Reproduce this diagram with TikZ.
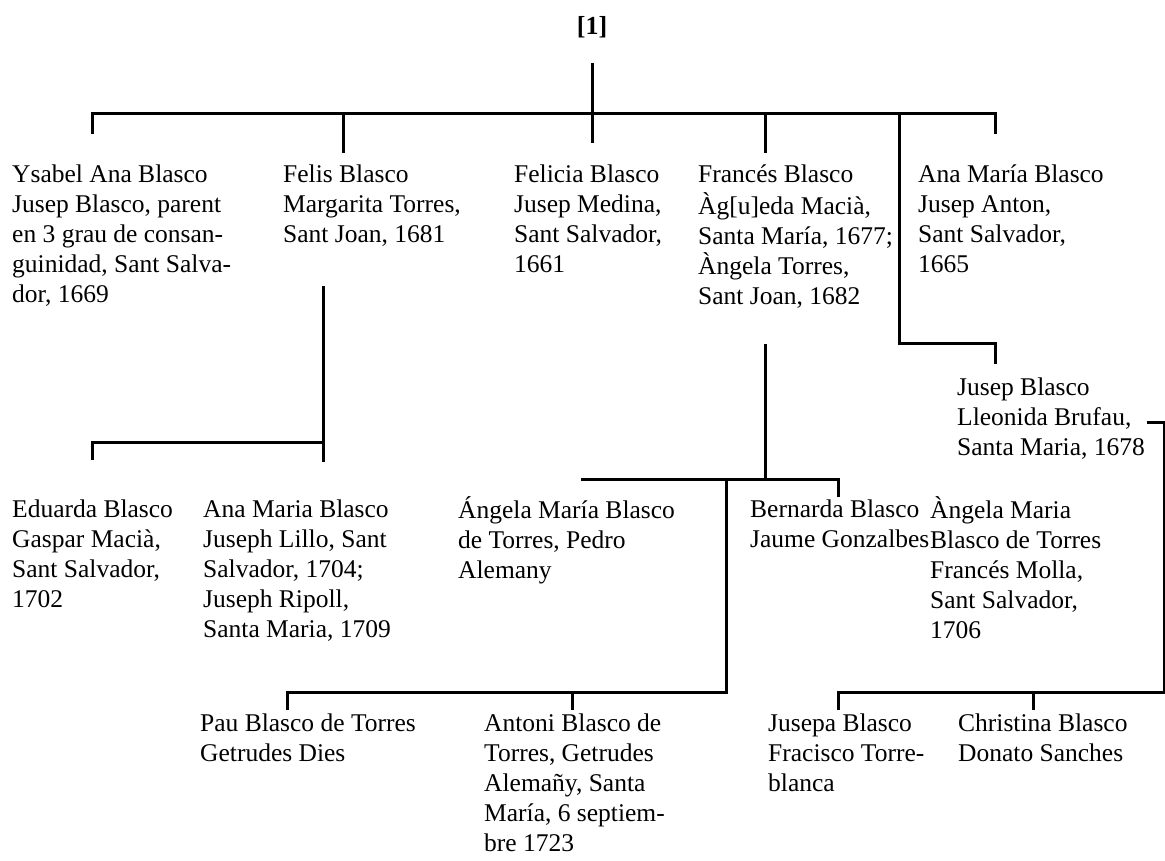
\documentclass[tikz,border=0pt]{standalone}
\usepackage{fontspec}
\setmainfont{Liberation Serif}
\begin{document}
\begin{tikzpicture}[x=1pt,y=-1pt,
  person/.style={anchor=north west, inner sep=0pt, align=left,
    font=\fontsize{25.5}{30}\selectfont},
  link/.style={line width=3pt, line join=miter, line cap=butt}]
\useasboundingbox (0,0) rectangle (1165,861);

% root label
\node[inner sep=0pt, font=\fontsize{26}{30}\selectfont\bfseries] (root) at (592,27) {[1]};

% generation 1
\node[person] (ysabel) at (12,161) {\strut Ysabel Ana Blasco\\Jusep Blasco, parent\\en 3 grau de consan-\\guinidad, Sant Salva-\\dor, 1669};
\node[person] (felis) at (283,161) {\strut Felis Blasco\\Margarita Torres,\\Sant Joan, 1681};
\node[person] (felicia) at (514,161) {\strut Felicia Blasco\\Jusep Medina,\\Sant Salvador,\\1661};
\node[person] (frances) at (698,161) {\strut Francés Blasco\\Àg[u]eda Macià,\\Santa María, 1677;\\Àngela Torres,\\Sant Joan, 1682};
\node[person] (anamaria) at (918,161) {\strut Ana María Blasco\\Jusep Anton,\\Sant Salvador,\\1665};

% generation 2
\node[person] (jusep) at (957,374) {\strut Jusep Blasco\\Lleonida Brufau,\\Santa Maria, 1678};
\node[person] (eduarda) at (12,496) {\strut Eduarda Blasco\\Gaspar Macià,\\Sant Salvador,\\1702};
\node[person] (anamaria2) at (203,496) {\strut Ana Maria Blasco\\Juseph Lillo, Sant\\Salvador, 1704;\\Juseph Ripoll,\\Santa Maria, 1709};
\node[person] (angela1) at (458,496) {\strut Ángela María Blasco\\de Torres, Pedro\\Alemany};
\node[person] (bernarda) at (750,496) {\strut Bernarda Blasco\\Jaume Gonzalbes};
\node[person] (angela2) at (930,496) {\strut Àngela Maria\\Blasco de Torres\\Francés Molla,\\Sant Salvador,\\1706};

% generation 3
\node[person] (pau) at (200,710) {\strut Pau Blasco de Torres\\Getrudes Dies};
\node[person] (antoni) at (484,710) {\strut Antoni Blasco de\\Torres, Getrudes\\Alemañy, Santa\\María, 6 septiem-\\bre 1723};
\node[person] (jusepa) at (768,710) {\strut Jusepa Blasco\\Fracisco Torre-\\blanca};
\node[person] (christina) at (958,710) {\strut Christina Blasco\\Donato Sanches};

% junction points
\coordinate (rootTop) at (592,63);
\coordinate (rootBot) at (592,143);
\coordinate (busL) at (92,114);
\coordinate (busR) at (995,114);
\coordinate (felisBus) at (343,114);
\coordinate (francesBus) at (765,114);
\coordinate (jusepBus) at (899,114);
\coordinate (jusepBend) at (899,343);
\coordinate (jusepEnd) at (995,343);
\coordinate (felisLow) at (323,286);
\coordinate (felisBusL) at (92,442);
\coordinate (felisBusR) at (323,442);
\coordinate (francesLow) at (765,344);
\coordinate (francesBus2) at (765,479);
\coordinate (midBusL) at (581,479);
\coordinate (midBusR) at (838,479);
\coordinate (midDown) at (726,479);
\coordinate (lowBusR) at (726,692);
\coordinate (lowBusL) at (287,692);
\coordinate (antoniBus) at (572,692);
\coordinate (jusepStub) at (1147,422);
\coordinate (jusepEdge) at (1164.5,422);
\coordinate (rightBusL) at (838,692);
\coordinate (rightBusR) at (1164.5,692);
\coordinate (christinaBus) at (1033,692);

% generation 1 connectors
\draw[link] (rootTop) -- (rootBot);
\draw[link] (busL) ++(0,20) -- (busL) -- (busR) -- ++(0,20);
\draw[link] (felisBus) -- ++(0,39);
\draw[link] (francesBus) -- ++(0,39);
\draw[link] (jusepBus) -- (jusepBend) -- (jusepEnd) -- ++(0,21);

% children of Felis
\draw[link] (felisLow) -- (felisBusR |- 0,462);
\draw[link] (felisBusR) -- (felisBusL) -- ++(0,18);

% children of Francés
\draw[link] (francesLow) -- (francesBus2);
\draw[link] (midBusL) -- (midBusR) -- ++(0,18);
\draw[link] (midDown) -- (lowBusR) -- (lowBusL) -- ++(0,18);
\draw[link] (antoniBus) -- ++(0,18);

% children of Jusep
\draw[link] (jusepStub) -- (jusepEdge) -- (rightBusR) -- (rightBusL) -- ++(0,18);
\draw[link] (christinaBus) -- ++(0,18);
\end{tikzpicture}
\end{document}
